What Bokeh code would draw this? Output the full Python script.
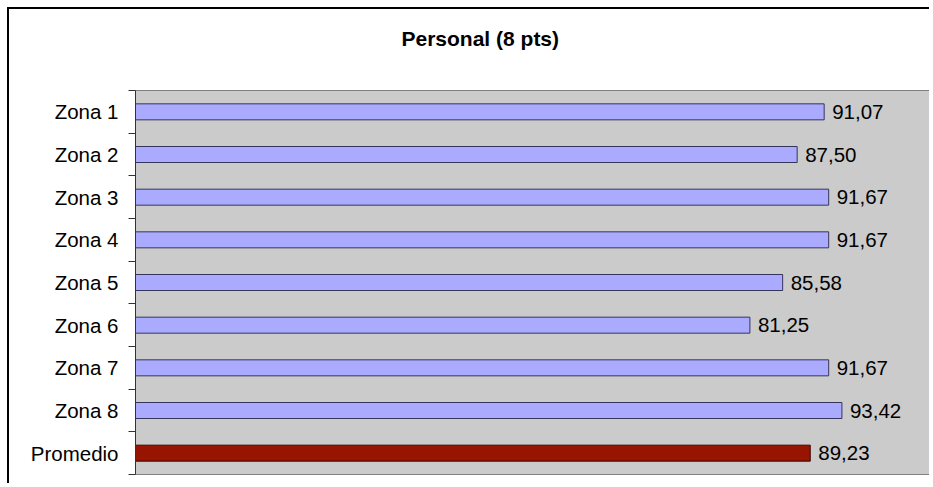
from bokeh.plotting import figure
from bokeh.models import ColumnDataSource, FixedTicker, Range1d, LinearAxis, Title
from bokeh.core.properties import value
from bokeh.embed import file_html
from bokeh.resources import INLINE

# ---- data ----
categories = ["Zona 1", "Zona 2", "Zona 3", "Zona 4", "Zona 5",
              "Zona 6", "Zona 7", "Zona 8", "Promedio"]
scores = [91.07, 87.50, 91.67, 91.67, 85.58, 81.25, 91.67, 93.42, 89.23]
title_text = "Personal (8 pts)"

FONT = "Liberation Sans"
n = len(categories)
ypos = [i + 0.5 for i in range(n)]
fills = ["#AAAAFF"] * (n - 1) + ["#961400"]
lines = ["#35355a"] * (n - 1) + ["#3a0800"]
labels = [f"{v:.2f}".replace(".", ",") for v in scores]

src = ColumnDataSource(dict(y=ypos, v=scores, fill=fills, line=lines, lab=labels))

p = figure(width=922, height=476, output_backend="svg", toolbar_location=None,
           x_range=Range1d(0, 105.0), y_range=Range1d(n, 0),
           min_border_left=126, min_border_right=2, min_border_top=81,
           min_border_bottom=11, title=None)
p.styles = {"border-left": "2px solid #000000", "border-top": "2px solid #000000",
            "margin-left": "7px", "margin-top": "7px"}

# invisible spacer between title and plot area (no visible ticks, empty label)
spacer = LinearAxis(ticker=FixedTicker(ticks=[50]), axis_line_color=None,
                    major_tick_line_color=None, minor_tick_line_color=None,
                    major_tick_out=39, major_tick_in=0, minor_tick_out=0,
                    minor_tick_in=0, major_label_standoff=0,
                    major_label_overrides={50: ""},
                    major_label_text_font_size="1px")
p.add_layout(spacer, "above")

ttl = Title(text=title_text, align="left", offset=266, text_font=FONT,
            text_font_size="21px", text_font_style="bold", text_color="#000000",
            vertical_align="top", standoff=0)
p.add_layout(ttl, "above")

p.background_fill_color = "#CBCBCB"
p.border_fill_color = "#FFFFFF"
p.outline_line_color = "#808080"
p.outline_line_width = 1
p.xgrid.visible = False
p.ygrid.visible = False
for ax in p.below:
    ax.visible = False

p.hbar(y="y", left=0, right="v", height=0.375, source=src,
       fill_color="fill", line_color="line", line_width=1)

p.text(x="v", y="y", text="lab", source=src, x_offset=8,
       text_baseline="middle", text_align="left",
       text_font=value(FONT), text_font_size="20.5px", text_color="#000000")

yax = p.yaxis[0]
yax.ticker = FixedTicker(ticks=ypos, minor_ticks=list(range(n + 1)))
yax.major_label_overrides = {y: c for y, c in zip(ypos, categories)}
yax.major_tick_line_color = None
yax.major_tick_out = 0
yax.major_tick_in = 0
yax.minor_tick_line_color = "#333333"
yax.minor_tick_out = 7
yax.minor_tick_in = 0
yax.axis_line_color = "#333333"
yax.axis_line_width = 1
yax.major_label_standoff = 10
yax.major_label_text_font = FONT
yax.major_label_text_font_size = "20.5px"
yax.major_label_text_color = "#000000"

open("out.html", "w").write(file_html(p, INLINE))
